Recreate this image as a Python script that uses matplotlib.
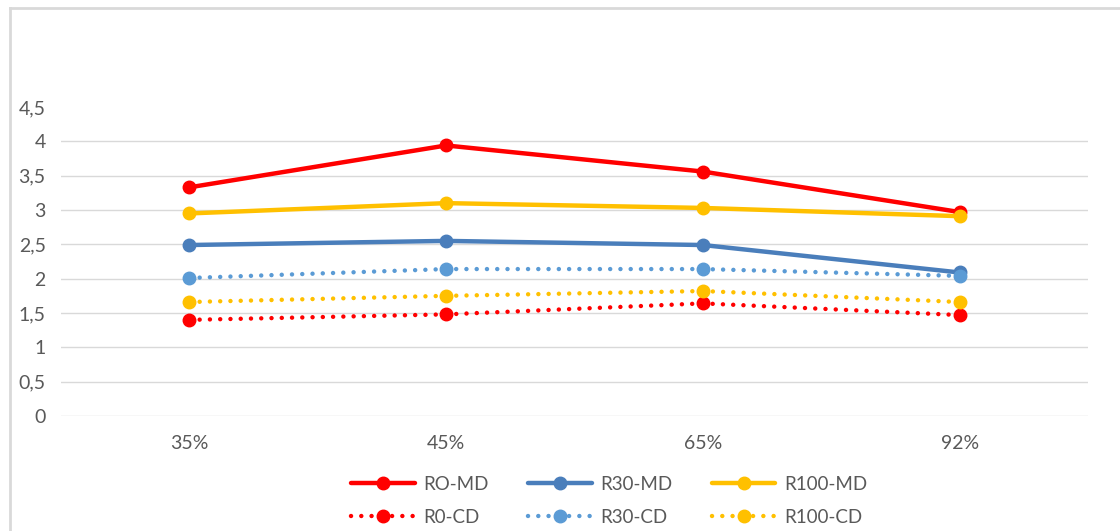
import matplotlib.pyplot as plt
from matplotlib.lines import Line2D

plt.rcParams['font.family'] = ['Lato', 'DejaVu Sans']

categories = ['35%', '45%', '65%', '92%']
r0_md = [3.33, 3.94, 3.56, 2.97]
r30_md = [2.49, 2.55, 2.49, 2.09]
r100_md = [2.95, 3.10, 3.03, 2.91]
r0_cd = [1.40, 1.48, 1.64, 1.47]
r30_cd = [2.01, 2.14, 2.14, 2.04]
r100_cd = [1.66, 1.75, 1.82, 1.66]
yticks = [0, 0.5, 1, 1.5, 2, 2.5, 3, 3.5, 4, 4.5]
ytick_labels = ['0', '0,5', '1', '1,5', '2', '2,5', '3', '3,5', '4', '4,5']

RED = '#FF0000'
BLUE = '#4A7EBB'
LBLUE = '#5B9BD5'
YELLOW = '#FFC000'
TEXT = '#595959'
GRID = '#D9D9D9'

fig = plt.figure(figsize=(11.2, 5.31), dpi=100)
W, H = 1120, 531
ax = fig.add_axes([61 / W, 1 - 416 / H, (1088 - 61) / W, (416 - 107) / H])

x = range(len(categories))
dot = (0, (0.01, 2.3))
series = [
    ('RO-MD', r0_md, RED, '-'),
    ('R30-MD', r30_md, BLUE, '-'),
    ('R100-MD', r100_md, YELLOW, '-'),
    ('R0-CD', r0_cd, RED, dot),
    ('R30-CD', r30_cd, LBLUE, dot),
    ('R100-CD', r100_cd, YELLOW, dot),
]
handles = {}
for name, vals, col, ls in series:
    h, = ax.plot(x, vals, color=col, linestyle=ls, linewidth=3.2,
                 marker='o', markersize=9, dash_capstyle='round',
                 solid_capstyle='round', label=name)
    handles[name] = h

ax.set_xlim(-0.5, 3.5)
ax.set_ylim(0, 4.5)
ax.set_xticks(list(x))
ax.set_xticklabels(categories)
ax.set_yticks(yticks)
ax.set_yticklabels(ytick_labels)
ax.tick_params(length=0, labelsize=14, colors=TEXT)
ax.tick_params(axis='y', pad=11)
ax.tick_params(axis='x', pad=14)
for s in ax.spines.values():
    s.set_visible(False)
ax.yaxis.grid(True, color=GRID, linewidth=1)
ax.yaxis.get_gridlines()[-1].set_visible(False)
ax.set_axisbelow(True)

order = ['RO-MD', 'R0-CD', 'R30-MD', 'R30-CD', 'R100-MD', 'R100-CD']
leg = fig.legend([handles[n] for n in order], order, ncol=3, loc='center',
                 bbox_to_anchor=(609 / W, 1 - 501 / H), frameon=False,
                 fontsize=13.5, handlelength=3.4, handletextpad=0.45,
                 columnspacing=2.1, labelspacing=0.85)
for t in leg.get_texts():
    t.set_color(TEXT)

# chart border (left and top only visible)
fig.add_artist(Line2D([10 / W, 10 / W], [0, 1 - 8 / H], color=GRID, linewidth=2))
fig.add_artist(Line2D([10 / W, 1], [1 - 8 / H, 1 - 8 / H], color=GRID, linewidth=2))

fig.savefig('out.png', dpi=100)
